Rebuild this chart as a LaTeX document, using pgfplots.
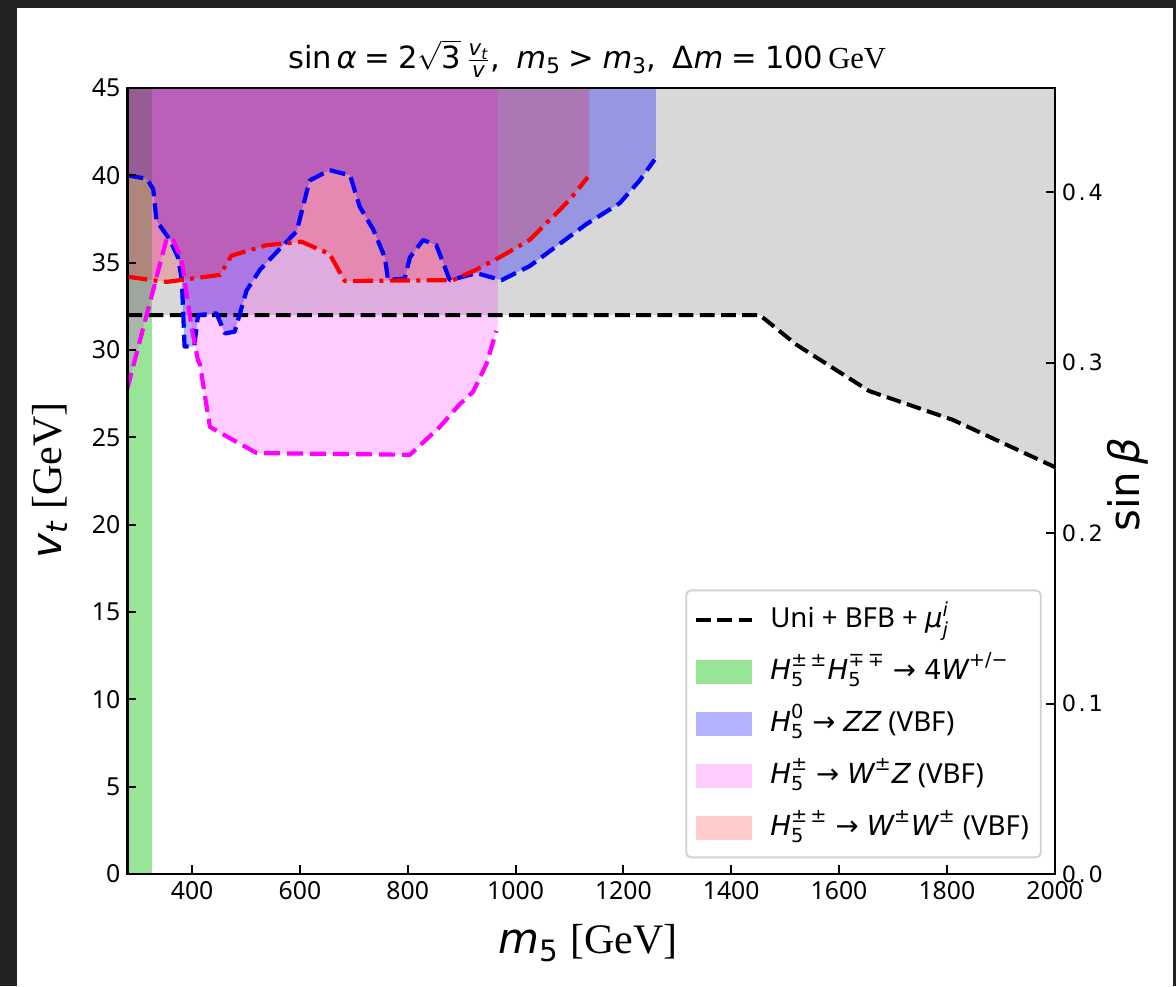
\documentclass[border=0pt]{standalone}
\usepackage{fontspec}
\usepackage{amsmath}
\usepackage{pgfplots}
\pgfplotsset{compat=1.18}
\setmainfont{Noto Sans}
\newfontfamily\dv{DejaVu Sans}
\newfontfamily\rtick[LetterSpace=12]{DejaVu Sans}
\newfontfamily\tms{Liberation Serif}
\newcommand{\mi}[1]{\text{\dv\itshape #1}}
\newcommand{\mr}[1]{\text{\dv #1}}
\definecolor{lgreen}{RGB}{50,205,50}
\definecolor{darkbg}{RGB}{34,34,34}
\definecolor{mpblue}{RGB}{0,0,255}
\definecolor{mpred}{RGB}{255,0,0}
\definecolor{mpmag}{RGB}{255,0,255}
\definecolor{mpgray}{RGB}{128,128,128}
\begin{document}
\begin{tikzpicture}
\fill[darkbg] (-63.7pt,-56pt) rectangle (524.3pt,437pt);
\fill[white] (-55.2pt,-56pt) rectangle (522.8pt,433pt);
\path[use as bounding box] (-63.7pt,-56pt) rectangle (524.3pt,437pt);
\begin{axis}[
  scale only axis, width=463.65pt, height=393pt,
  xmin=280, xmax=2000, ymin=0, ymax=45,
  xtick={400,600,800,1000,1200,1400,1600,1800,2000},
  ytick={0,5,10,15,20,25,30,35,40,45},
  xtick pos=left, ytick pos=left,
  tick align=inside, major tick length=4.5pt,
  every tick/.style={black, line width=1pt},
  axis line style={line width=1.2pt},
  tick label style={font=\fontsize{12.4}{14}\selectfont},
  /pgf/number format/assume math mode=true,
  /pgf/number format/1000 sep={},
  scaled ticks=false,
  axis on top,
  title={$\mr{sin}\,\mi{α}\mathrel{\mr{=}}\mr{2}\sqrt{\mr{3}}\,\tfrac{\mi{v}_{\mi{t}}}{\mi{v}}\mr{,}\;\;\mi{m}_{\mr{5}}\mathrel{\mr{>}}\mi{m}_{\mr{3}}\mr{,}\;\;\mr{Δ}\mi{m}\mathrel{\mr{=}}\mr{100}\,\text{\tms GeV}$},
  title style={at={(0.4957,1)}, anchor=south, yshift=-4.5pt, font=\fontsize{15.3}{17}\selectfont},
  xlabel={$\mi{m}_{\mr{5}}$ {\tms [GeV]}},
  ylabel={$\mi{v}_{\mi{t}}$ {\tms [GeV]}},
  xlabel style={at={(axis description cs:0.4967,-0.088)}, anchor=center, font=\fontsize{21}{25}\selectfont},
  ylabel style={at={(axis description cs:-0.0835,0.501)}, anchor=center, font=\fontsize{21}{25}\selectfont},
  legend cell align=left,
  legend style={at={(0.986,0.02)}, anchor=south east, draw=black!18, line width=0.9pt,
    rounded corners=2.5pt, fill=white, fill opacity=0.8, text opacity=1,
    font=\fontsize{13.8}{16}\selectfont, inner sep=4pt, row sep=4.5pt, column sep=6pt,
    nodes={text height=12.5pt, text depth=5pt, inner sep=2pt}},
]
% --- Uni + BFB excluded region (grey)
\addplot[draw=none, fill=mpgray, fill opacity=0.3, forget plot] coordinates {
(280,32) (1453,32) (1521,30.3) (1656,27.65) (1811,26.0) (2000,23.3) (2000,45) (280,45)};
% --- H5++H5-- -> 4W (green)
\addplot[draw=none, fill=lgreen, fill opacity=0.5, forget plot] coordinates {
(280,0) (325,0) (325,45) (280,45)};
% --- H5^0 -> ZZ (blue)
\addplot[draw=none, fill=mpblue, fill opacity=0.3, forget plot] coordinates {
(280,40.0) (316,39.8) (328,39.2) (334,37.4) (359,36.3) (374,35.3) (381,34.0) (386,30.2) (404,30.2)
(411,32.0) (445,32.1) (461,30.95) (479,31.05) (501,33.4) (526,34.6) (563,35.8) (594,36.8)
(618,39.7) (655,40.3) (693,40.0) (711,38.2) (736,36.9) (757.5,35.3) (763.5,34.0) (794.5,34.1)
(804,35.3) (828.5,36.3) (853,36.0) (878,34.0) (927.5,34.4) (974,34.0) (1026,34.8) (1131,37.2)
(1193,38.4) (1230,39.7) (1258,40.9) (1260,41.0) (1260,45) (280,45)};
% --- H5+- -> WZ (magenta)
\addplot[draw=none, fill=mpmag, fill opacity=0.2, forget plot] coordinates {
(280,27.8) (353,36.4) (365,36.3) (380.5,35.2) (399,31.3) (411,29.4) (414.5,29.2) (433,25.6)
(476,24.85) (520,24.1) (804,24.0) (859.5,25.6) (896.5,26.9) (921,27.6) (946,29.2) (964.5,31.1)
(967,31.5) (967,45) (280,45)};
% --- H5++ -> WW (red)
\addplot[draw=none, fill=mpred, fill opacity=0.2, forget plot] coordinates {
(280,34.2) (325,34.0) (353,33.9) (452,34.3) (473,35.4) (538,36.0) (603,36.2) (655,35.5)
(683,33.95) (884,34.0) (927,34.6) (970,35.3) (1026,36.3) (1075,37.8) (1103,38.7) (1134,39.9)
(1137,40.1) (1137,45) (280,45)};
% --- boundary lines
\addplot[black, line width=2pt, dash pattern=on 7.4pt off 3.2pt, forget plot] coordinates {
(280,32) (1453,32) (1521,30.3) (1656,27.65) (1811,26.0) (2000,23.3)};
\addplot[mpblue, line width=2.1pt, line join=round, dash pattern=on 8pt off 3.5pt, forget plot] coordinates {
(280,40.0) (316,39.8) (328,39.2) (334,37.4) (359,36.3) (374,35.3) (381,34.0) (386,30.2) (404,30.2)
(411,32.0) (445,32.1) (461,30.95) (479,31.05) (501,33.4) (526,34.6) (563,35.8) (594,36.8)
(618,39.7) (655,40.3) (693,40.0) (711,38.2) (736,36.9) (757.5,35.3) (763.5,34.0) (794.5,34.1)
(804,35.3) (828.5,36.3) (853,36.0) (878,34.0) (927.5,34.4) (974,34.0) (1026,34.8) (1131,37.2)
(1193,38.4) (1230,39.7) (1258,40.9)};
\addplot[mpmag, line width=2.1pt, line join=round, dash pattern=on 8pt off 3.5pt, forget plot] coordinates {
(280,27.8) (353,36.4) (365,36.3) (380.5,35.2) (399,31.3) (411,29.4) (414.5,29.2) (433,25.6)
(476,24.85) (520,24.1) (804,24.0) (859.5,25.6) (896.5,26.9) (921,27.6) (946,29.2) (964.5,31.1)};
\addplot[mpred, line width=2.1pt, line join=round, dash pattern=on 10pt off 3.2pt on 2pt off 3.2pt, forget plot] coordinates {
(280,34.2) (325,34.0) (353,33.9) (452,34.3) (473,35.4) (538,36.0) (603,36.2) (655,35.5)
(683,33.95) (884,34.0) (927,34.6) (970,35.3) (1026,36.3) (1075,37.8) (1103,38.7) (1134,39.9)};
% --- legend
\addlegendimage{legend image code/.code={\draw[black, line width=2pt, sharp corners, dash pattern=on 7.4pt off 3.2pt] (0pt,0pt) -- (28pt,0pt);}}
\addlegendentry{Uni + BFB + $\mi{μ}^{\mi{i}}_{\mi{j}}$}
\addlegendimage{legend image code/.code={\path[draw=none, sharp corners, fill=lgreen, fill opacity=0.5] (0pt,-6pt) rectangle (28pt,6pt);}}
\addlegendentry{$\mi{H}^{\mr{±\,±}}_{\mr{5}}\mi{H}^{\mr{∓\,∓}}_{\mr{5}}\mathrel{\mr{→}}\mr{4}\mi{W}^{\mr{+/−}}$}
\addlegendimage{legend image code/.code={\path[draw=none, sharp corners, fill=mpblue, fill opacity=0.3] (0pt,-6pt) rectangle (28pt,6pt);}}
\addlegendentry{$\mi{H}^{\mr{0}}_{\mr{5}}\mathrel{\mr{→}}\mi{ZZ}$ (VBF)}
\addlegendimage{legend image code/.code={\path[draw=none, sharp corners, fill=mpmag, fill opacity=0.2] (0pt,-6pt) rectangle (28pt,6pt);}}
\addlegendentry{$\mi{H}^{\mr{±}}_{\mr{5}}\mathrel{\mr{→}}\mi{W}^{\mr{±}}\mi{Z}$ (VBF)}
\addlegendimage{legend image code/.code={\path[draw=none, sharp corners, fill=mpred, fill opacity=0.2] (0pt,-6pt) rectangle (28pt,6pt);}}
\addlegendentry{$\mi{H}^{\mr{±\,±}}_{\mr{5}}\mathrel{\mr{→}}\mi{W}^{\mr{±}}\mi{W}^{\mr{±}}$ (VBF)}
\end{axis}
\begin{axis}[
  scale only axis, width=463.65pt, height=393pt,
  xmin=280, xmax=2000, ymin=0, ymax=0.461,
  axis x line=none, axis y line*=right,
  ytick={0,0.1,0.2,0.3,0.4},
  tick align=inside, major tick length=4.5pt,
  every tick/.style={black, line width=1pt},
  axis line style={line width=1.2pt},
  /pgf/number format/assume math mode=true,
  yticklabel style={font=\rtick\fontsize{11.2}{13}\selectfont, /pgf/number format/fixed,
    /pgf/number format/precision=1, /pgf/number format/fixed zerofill},
  ylabel={$\mr{sin}\,\mi{β}$},
  ylabel style={at={(axis description cs:1.079,0.495)}, anchor=center, font=\fontsize{21}{25}\selectfont},
]
\addplot[draw=none, forget plot] coordinates {(300,0.1)};
\end{axis}
\end{tikzpicture}
\end{document}
